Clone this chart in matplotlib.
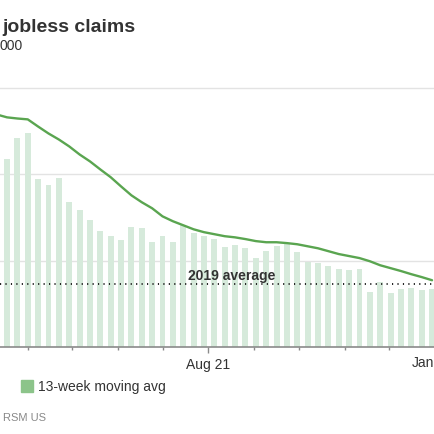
import matplotlib
matplotlib.use("Agg")
import matplotlib.pyplot as plt
import pandas as pd
from matplotlib.patches import Rectangle

plt.rcParams['font.family'] = ['Liberation Sans', 'DejaVu Sans']

# Weekly release dates (Thursdays)
weeks = pd.date_range("2021-03-11", periods=43, freq="7D")
# Weekly jobless claims, thousands
claims = [763, 655, 725, 742, 583, 562, 586, 503, 475, 440, 402, 385, 371,
          416, 413, 364, 385, 364, 423, 395, 385, 375, 347, 354, 343, 309,
          333, 350, 361, 329, 295, 291, 281, 271, 267, 271, 191, 225, 187,
          201, 205, 198, 201]
# 13-week moving average, thousands
moving_avg = [808, 798, 794, 791, 766, 742, 721, 697, 669, 645, 617, 590, 558,
              527, 503, 482, 454, 437, 423, 409, 399, 392, 385, 381, 375, 368,
              364, 364, 361, 357, 350, 343, 333, 323, 316, 309, 298, 284, 274,
              264, 253, 243, 232]
avg_2019 = 218
grid_values = [300, 600, 900]
major_ticks = ["2021-08-01", "2022-01-01"]
major_labels = ["Aug 21", ""]
edge_label = "Jan"
minor_ticks = pd.date_range("2021-04-01", "2021-12-01", freq="MS")

W = H = 435
fig = plt.figure(figsize=(W / 100, H / 100), dpi=100)

def fy(px):
    return (H - px) / H

ax = fig.add_axes([0, fy(348), 1, (348 - 89) / H])

aug1 = pd.Timestamp("2021-08-01")
ppd = 1.492
ax.set_xlim(aug1 - pd.Timedelta(days=210 / ppd), aug1 + pd.Timedelta(days=(W - 210) / ppd))
ax.set_ylim(0, 900)

for g in grid_values:
    ax.axhline(g, color="#e3e3e3", lw=1, zorder=0, clip_on=False)

ax.bar(weeks, claims, width=4.0, color="#d6eadb", zorder=1)
ax.plot(weeks, moving_avg, color="#5aa550", lw=1.7, zorder=3, solid_capstyle="round")
ax.axhline(avg_2019, color="#222222", lw=1.4, ls=(0, (0.6, 2.2)), zorder=4)
ax.text(aug1 + pd.Timedelta(days=15.4), 238, "2019 average", ha="center", va="baseline",
        fontsize=10, fontweight="bold", color="#333333", zorder=5)

for s in ["top", "left", "right"]:
    ax.spines[s].set_visible(False)
ax.spines["bottom"].set_color("#8a8a8a")
ax.spines["bottom"].set_linewidth(1.2)
ax.set_yticks([])
ax.set_xticks(pd.to_datetime(major_ticks))
ax.set_xticklabels(major_labels)
ax.set_xticks(minor_ticks, minor=True)
ax.tick_params(axis="x", which="major", length=4.5, width=1, color="#8a8a8a",
               labelsize=10, labelcolor="#333333", pad=2.5)
ax.tick_params(axis="x", which="minor", length=2.5, width=1, color="#8a8a8a")

# Right-edge month label (cut off in the reference)
fig.text(434 / W, fy(367.5), edge_label, fontsize=10, color="#333333",
         va="baseline", ha="right")

# Title and subtitle (cropped in reference)
fig.text(2 / W, fy(31.5), "jobless claims", fontsize=14, fontweight="bold",
         color="#333333", va="baseline", ha="left")
fig.text(0 / W, fy(50), "000", fontsize=10, color="#333333", va="baseline", ha="left")

# Legend
fig.patches.append(Rectangle((21 / W, fy(393)), 12 / W, 12 / H, transform=fig.transFigure,
                             color="#8cc48a"))
fig.text(38 / W, fy(387), "13-week moving avg", fontsize=10, color="#333333",
         va="center", ha="left")

# Source
fig.text(3 / W, fy(421.5), "RSM US", fontsize=8, color="#888888", va="baseline", ha="left")

fig.savefig("out.png", dpi=100)
